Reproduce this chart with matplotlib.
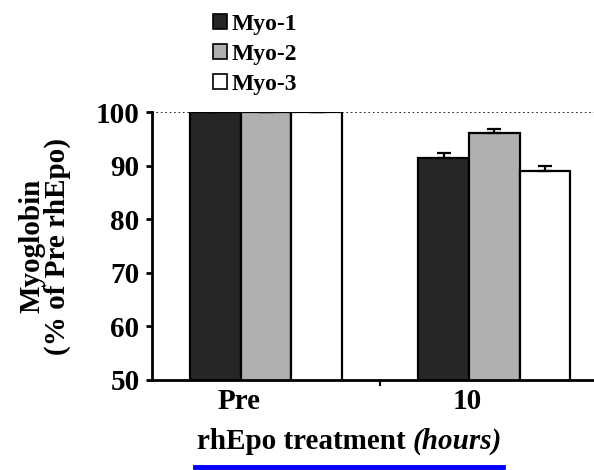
import numpy as np
import matplotlib.pyplot as plt
from matplotlib.patches import Patch
from matplotlib.lines import Line2D

plt.rcParams['font.family'] = 'Liberation Serif'
plt.rcParams['font.weight'] = 'bold'

# Myoglobin as % of pre-rhEpo level
groups = ['Pre', '10']
series = ['Myo-1', 'Myo-2', 'Myo-3']
myo1 = [100, 91.4]
myo2 = [100, 96.1]
myo3 = [100, 89.0]
err1 = [0, 0.9]
err2 = [0, 0.7]
err3 = [0, 1.0]

colors = ['#262626', '#b0b0b0', '#ffffff']

fig = plt.figure(figsize=(5.94, 4.70), dpi=100)
ax = fig.add_axes([0.256, 0.1915, 0.768, 0.570])

x = np.arange(len(groups))
w = 0.222
for i, (vals, errs) in enumerate(zip([myo1, myo2, myo3], [err1, err2, err3])):
    pos = x + (i - 1) * w
    ax.bar(pos, vals, width=w, color=colors[i], edgecolor='black', linewidth=1.6, zorder=2)
    up = np.array(errs)
    ax.errorbar(pos, vals, yerr=[np.zeros_like(up), up], fmt='none', ecolor='black',
                elinewidth=1.6, capsize=5, capthick=1.6, zorder=3)

ax.axhline(100, color='black', linestyle=':', linewidth=1.2, zorder=1)

ax.set_xlim(-0.5, 1.5)
ax.set_ylim(50, 100)
ax.set_yticks([50, 60, 70, 80, 90, 100])
ax.set_xticks([0.5])
ax.set_xticklabels([''])
# group labels sit a little left of the group centres
for xi, g in zip(x, groups):
    ax.text(xi - 0.12, -0.03, g, transform=ax.get_xaxis_transform(), ha='center', va='top',
            fontsize=21, fontweight='bold')

ax.spines['top'].set_visible(False)
ax.spines['right'].set_visible(False)
ax.spines['left'].set_linewidth(2)
ax.spines['bottom'].set_linewidth(2)
ax.tick_params(axis='y', direction='out', length=4, width=2, labelsize=21, pad=5)
ax.tick_params(axis='x', direction='out', length=4, width=1.5)
for lbl in ax.get_yticklabels():
    lbl.set_fontweight('bold')

ax.set_ylabel('Myoglobin\n(% of Pre rhEpo)', fontsize=21, fontweight='bold', labelpad=18, linespacing=0.9)

# x axis title with italic units
fig.text(0.695, 0.06, 'rhEpo treatment ', ha='right', va='center', fontsize=21, fontweight='bold')
fig.text(0.695, 0.06, '(hours)', ha='left', va='center', fontsize=21, fontweight='bold', style='italic')
fig.add_artist(Line2D([195 / 594, 503 / 594], [1 - 467 / 470] * 2, color='#0000ff', linewidth=3.5))

handles = [Patch(facecolor=c, edgecolor='black', linewidth=1.2) for c in colors]
fig.legend(handles, series, loc='upper left', bbox_to_anchor=(0.3586, 0.97), frameon=False,
           borderpad=0, borderaxespad=0,
           handlelength=0.6, handleheight=0.6, handletextpad=0.2, labelspacing=0.38,
           prop={'family': 'Liberation Serif', 'weight': 'bold', 'size': 17})

fig.savefig('out.png', dpi=100)
